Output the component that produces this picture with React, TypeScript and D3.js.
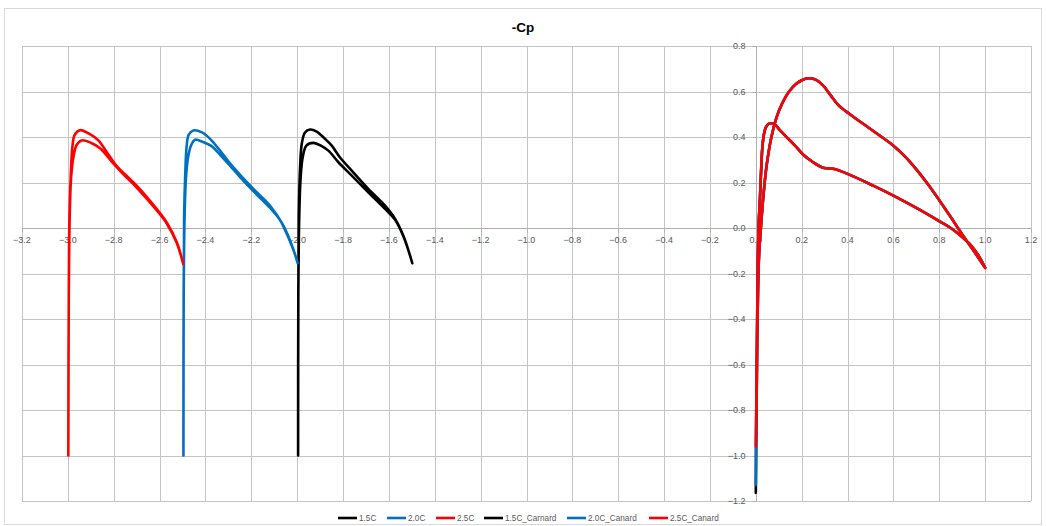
import * as d3 from "d3";

type Pt = [number, number];

// x / (-Cp) pairs
const xTicks = [-3.2, -3.0, -2.8, -2.6, -2.4, -2.2, -2.0, -1.8, -1.6, -1.4, -1.2, -1.0, -0.8, -0.6, -0.4, -0.2, 0.0, 0.2, 0.4, 0.6, 0.8, 1.0, 1.2];
const yTicks = [-1.2, -1.0, -0.8, -0.6, -0.4, -0.2, 0.0, 0.2, 0.4, 0.6, 0.8];

// canard 1.5C (black), trailing edge -> leading edge -> trailing edge
const canard15Upper: Pt[] = [[-1.498, -0.155], [-1.512, -0.107], [-1.537, -0.034], [-1.573, 0.04], [-1.617, 0.098], [-1.69, 0.172], [-1.762, 0.252], [-1.814, 0.311], [-1.85, 0.363], [-1.879, 0.392], [-1.915, 0.424], [-1.944, 0.433], [-1.966, 0.42], [-1.98, 0.37], [-1.988, 0.25], [-1.993, 0.05], [-1.995, -0.3]];
const canard15Lower: Pt[] = [[-1.995, -0.3], [-1.991, 0.05], [-1.985, 0.22], [-1.976, 0.31], [-1.96, 0.362], [-1.93, 0.374], [-1.893, 0.36], [-1.864, 0.34], [-1.82, 0.289], [-1.762, 0.23], [-1.69, 0.157], [-1.617, 0.084], [-1.573, 0.036], [-1.537, -0.036], [-1.512, -0.108], [-1.498, -0.155]];
const canard15Stag: Pt = [-1.996, -1.0];

// canard 2.0C (blue)
const canard20Upper: Pt[] = [[-1.998, -0.154], [-2.017, -0.093], [-2.06, 0.01], [-2.118, 0.098], [-2.191, 0.172], [-2.25, 0.235], [-2.293, 0.284], [-2.34, 0.345], [-2.38, 0.392], [-2.415, 0.42], [-2.453, 0.429], [-2.473, 0.41], [-2.482, 0.36], [-2.488, 0.24], [-2.493, 0.05], [-2.495, -0.3]];
const canard20Lower: Pt[] = [[-2.495, -0.3], [-2.491, 0.05], [-2.485, 0.22], [-2.476, 0.31], [-2.462, 0.365], [-2.446, 0.388], [-2.41, 0.378], [-2.373, 0.36], [-2.33, 0.315], [-2.293, 0.274], [-2.25, 0.225], [-2.191, 0.162], [-2.118, 0.088], [-2.075, 0.035], [-2.06, 0.007], [-2.017, -0.095], [-1.998, -0.154]];
const canard20Stag: Pt = [-2.496, -1.0];

// canard 2.5C (red)
const canard25Upper: Pt[] = [[-2.497, -0.158], [-2.525, -0.063], [-2.569, 0.025], [-2.613, 0.084], [-2.7, 0.186], [-2.75, 0.235], [-2.787, 0.272], [-2.83, 0.333], [-2.867, 0.385], [-2.9, 0.41], [-2.947, 0.43], [-2.97, 0.41], [-2.98, 0.36], [-2.987, 0.24], [-2.993, 0.05], [-2.996, -0.3]];
const canard25Lower: Pt[] = [[-2.996, -0.3], [-2.992, 0.05], [-2.986, 0.22], [-2.976, 0.31], [-2.962, 0.365], [-2.94, 0.385], [-2.9, 0.375], [-2.86, 0.351], [-2.8, 0.282], [-2.75, 0.228], [-2.7, 0.178], [-2.613, 0.078], [-2.569, 0.02], [-2.525, -0.066], [-2.497, -0.158]];
const canard25Stag: Pt = [-2.998, -1.0];

// wing, all three cases almost on top of each other
const wingUpper: Pt[] = [[1.0, -0.175], [0.95, -0.1], [0.9, -0.028], [0.85, 0.048], [0.8, 0.122], [0.75, 0.193], [0.7, 0.258], [0.65, 0.315], [0.6, 0.362], [0.5, 0.435], [0.41, 0.5], [0.36, 0.54], [0.325, 0.585], [0.295, 0.625], [0.265, 0.65], [0.235, 0.658], [0.205, 0.652], [0.175, 0.633], [0.145, 0.6], [0.115, 0.548], [0.09, 0.485], [0.068, 0.4], [0.047, 0.274], [0.032, 0.13], [0.022, 0.0], [0.015, -0.1], [0.01, -0.25], [0.006, -0.5], [0.003, -0.8]];
const wingLower: Pt[] = [[0.002, -0.8], [0.004, -0.6], [0.006, -0.4], [0.008, -0.2], [0.01, -0.08], [0.013, 0.03], [0.018, 0.13], [0.023, 0.25], [0.028, 0.348], [0.035, 0.41], [0.045, 0.445], [0.061, 0.46], [0.083, 0.454], [0.105, 0.43], [0.127, 0.407], [0.17, 0.363], [0.207, 0.322], [0.25, 0.289], [0.29, 0.266], [0.315, 0.262], [0.337, 0.26], [0.395, 0.24], [0.512, 0.186], [0.6, 0.142], [0.7, 0.088], [0.8, 0.03], [0.85, 0.0], [0.9, -0.04], [0.94, -0.078], [0.97, -0.12], [1.0, -0.175]];
const wingStag15: Pt = [0.0, -1.165];
const wingStag20: Pt = [0.0, -1.13];
const wingStag25: Pt = [0.0, -0.96];

const seriesNames = ["1.5C", "2.0C", "2.5C", "1.5C_Carnard", "2.0C_Canard", "2.5C_Canard"];
const seriesColors = ["#000000", "#0070c0", "#ff0000", "#000000", "#0070c0", "#ff0000"];

const series: Pt[][] = [
  [...wingUpper, wingStag15, ...wingLower],
  [...wingUpper, wingStag20, ...wingLower],
  [...wingUpper, wingStag25, ...wingLower],
  [...canard15Upper, canard15Stag, ...canard15Lower],
  [...canard20Upper, canard20Stag, ...canard20Lower],
  [...canard25Upper, canard25Stag, ...canard25Lower],
];

const W = 1046;
const H = 526;
const FONT = "'Liberation Sans', Arial, sans-serif";
const GRID = "#c4c4c4";
const LABEL = "#595959";
const legendX = [338, 387, 436, 484, 567, 649];

export default function App() {
  const x = d3.scaleLinear().domain([-3.2, 1.2]).range([22, 1031]);
  const y = d3.scaleLinear().domain([-1.2, 0.8]).range([501, 46]);
  const line = d3
    .line<Pt>()
    .x((d) => x(d[0]))
    .y((d) => y(d[1]))
    .curve(d3.curveCatmullRom.alpha(0.5));
  const fmt = d3.format(".1f");
  const x0 = Math.round(x(0)) + 0.5;
  const y0 = Math.round(y(0)) + 0.5;

  return (
    <svg
      width={W}
      height={H}
      style={{ position: "absolute", left: 0, top: 0, background: "#fff" }}
      fontFamily={FONT}
    >
      <rect x={4.5} y={8.5} width={1037} height={516} fill="#fff" stroke="#d9d9d9" />
      <text x={523} y={32} textAnchor="middle" fontSize={13.5} fontWeight="bold" fill="#000">
        -Cp
      </text>

      {/* gridlines */}
      <g stroke={GRID} strokeWidth={1}>
        {xTicks.map((t) => (
          <line key={"gx" + t} x1={Math.round(x(t)) + 0.5} x2={Math.round(x(t)) + 0.5} y1={y(0.8)} y2={y(-1.2)} />
        ))}
        {yTicks.map((t) => (
          <line key={"gy" + t} x1={x(-3.2)} x2={x(1.2)} y1={Math.round(y(t)) + 0.5} y2={Math.round(y(t)) + 0.5} />
        ))}
      </g>

      {/* axes through zero */}
      <g stroke="#b0b0b0" strokeWidth={1}>
        <line x1={x0} x2={x0} y1={y(0.8)} y2={y(-1.2)} />
        <line x1={x(-3.2)} x2={x(1.2)} y1={y0} y2={y0} />
        {yTicks.map((t) => (
          <line key={"ty" + t} x1={x0 - 4} x2={x0} y1={Math.round(y(t)) + 0.5} y2={Math.round(y(t)) + 0.5} />
        ))}
        {xTicks.map((t) => (
          <line key={"tx" + t} x1={Math.round(x(t)) + 0.5} x2={Math.round(x(t)) + 0.5} y1={y0} y2={y0 + 4} />
        ))}
      </g>

      <g fontSize={9} fill={LABEL}>
        {xTicks.map((t) => (
          <text key={"lx" + t} x={x(t)} y={y0 + 14} textAnchor="middle">
            {fmt(t)}
          </text>
        ))}
        {yTicks.map((t) => (
          <text key={"ly" + t} x={x0 - 11} y={y(t)} dy="0.35em" textAnchor="end">
            {fmt(t)}
          </text>
        ))}
      </g>

      {/* series */}
      <g fill="none" strokeWidth={2.6} strokeLinejoin="round" strokeLinecap="round">
        {series.map((pts, i) => (
          <path key={seriesNames[i]} d={line(pts) ?? ""} stroke={seriesColors[i]} />
        ))}
      </g>

      {/* legend */}
      <g fontSize={8.2} fill={LABEL}>
        {seriesNames.map((n, i) => (
          <g key={"lg" + n} transform={`translate(${legendX[i]},518)`}>
            <line x1={0} x2={19} y1={0} y2={0} stroke={seriesColors[i]} strokeWidth={2.6} />
            <text x={21} y={0} dy="0.35em">
              {n}
            </text>
          </g>
        ))}
      </g>
    </svg>
  );
}
